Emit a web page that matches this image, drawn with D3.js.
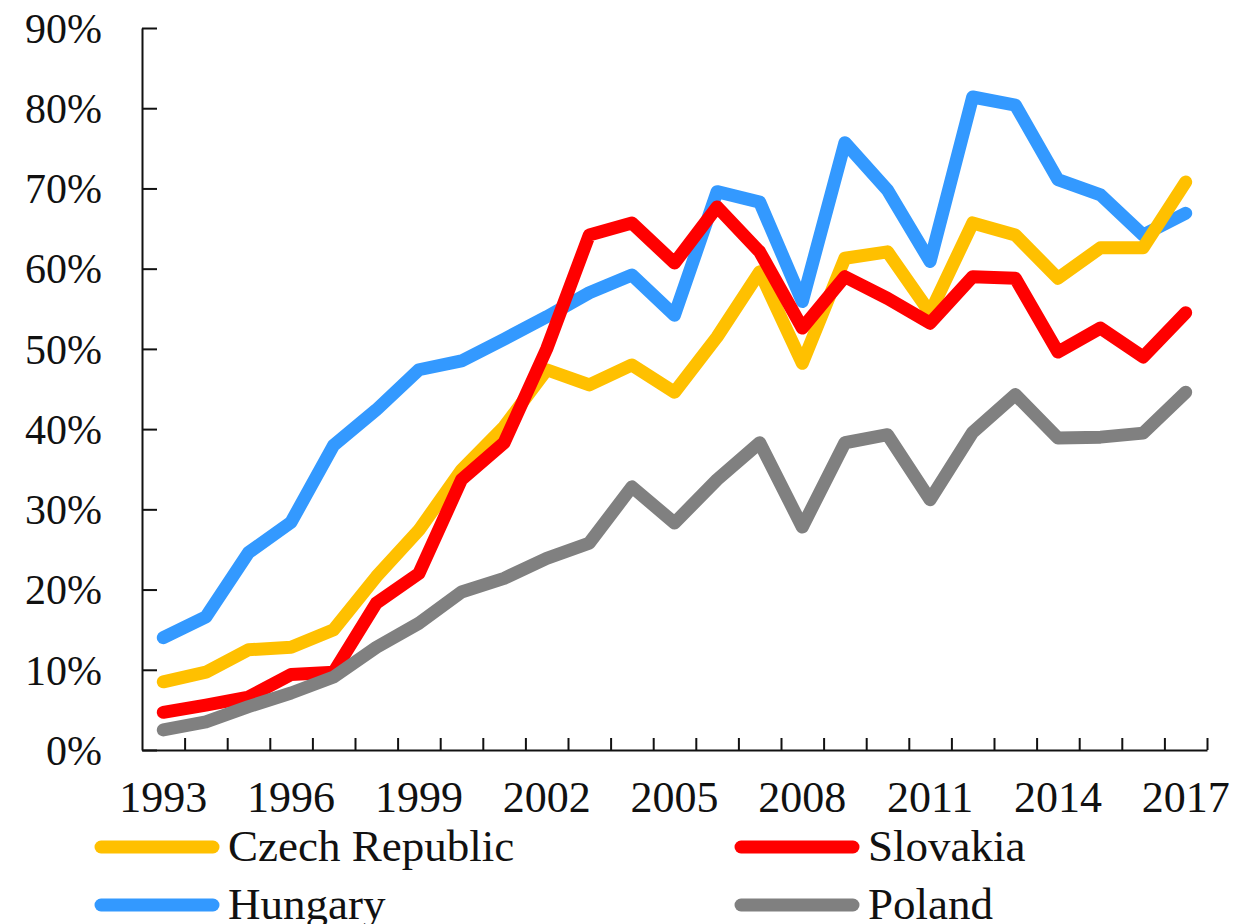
<!DOCTYPE html>
<html>
<head>
<meta charset="utf-8">
<script src="https://cdn.jsdelivr.net/npm/d3@7"></script>
<style>
  body { margin: 0; background: #fff; }
  text { font-family: "Liberation Serif", "Times New Roman", serif; fill: #111; }
</style>
</head>
<body>
<svg id="chart" width="1235" height="924"></svg>
<script>
// data (share, %)
var years = d3.range(1993, 2018);
var yearLabels = [1993, 1996, 1999, 2002, 2005, 2008, 2011, 2014, 2017];
var yTicks = [0, 10, 20, 30, 40, 50, 60, 70, 80, 90];

var czech = [8.5, 9.7, 12.5, 12.8, 15.0, 21.6, 27.4, 34.9, 40.3, 47.4, 45.5, 48.0, 44.6,
             51.5, 59.6, 48.2, 61.3, 62.1, 54.5, 65.7, 64.2, 58.8, 62.6, 62.6, 70.8];
var slovakia = [4.7, 5.6, 6.6, 9.4, 9.7, 18.3, 22.0, 33.7, 38.3, 50.0, 64.2, 65.7, 60.7,
                67.7, 62.1, 52.6, 59.0, 56.3, 53.2, 59.0, 58.8, 49.6, 52.6, 49.0, 54.5];
var hungary = [14.0, 16.6, 24.6, 28.4, 38.0, 42.4, 47.4, 48.5, 51.2, 54.0, 57.0, 59.2, 54.2,
               69.6, 68.3, 55.9, 75.7, 69.8, 60.9, 81.4, 80.4, 71.1, 69.2, 64.2, 66.9];
var poland = [2.5, 3.5, 5.4, 7.1, 9.1, 12.8, 15.8, 19.7, 21.4, 23.9, 25.8, 32.8, 28.3,
              33.7, 38.3, 27.8, 38.3, 39.3, 31.2, 39.6, 44.3, 38.9, 39.0, 39.5, 44.6];

var series = [
  {name: 'Czech Republic', values: czech, color: '#FFC000'},
  {name: 'Slovakia', values: slovakia, color: '#FF0000'},
  {name: 'Hungary', values: hungary, color: '#3399FF'},
  {name: 'Poland', values: poland, color: '#808080'}
];
var drawOrder = [series[2], series[0], series[1], series[3]];

var mLeft = 142, mRight = 1207, mTop = 28, mBottom = 750;
var svg = d3.select('#chart');

var x = d3.scalePoint().domain(years).range([mLeft, mRight]).padding(0.5);
var xb = d3.scaleLinear().domain([0, years.length]).range([mLeft, mRight]);
var y = d3.scaleLinear().domain([0, 90]).range([mBottom, mTop]);

// x axis: ticks sit between the years
svg.append('g')
  .attr('transform', `translate(0,${mBottom})`)
  .call(d3.axisBottom(xb)
    .tickValues(d3.range(1, years.length + 1))
    .tickSizeInner(-12)
    .tickSizeOuter(0)
    .tickFormat(''))
  .call(g => g.selectAll('line, path').attr('stroke', '#111').attr('stroke-width', 2));

svg.append('g')
  .selectAll('text').data(yearLabels).enter()
  .append('text')
  .attr('x', d => x(d))
  .attr('y', 812)
  .attr('text-anchor', 'middle')
  .attr('font-size', '44px')
  .text(d => d);

// y axis
svg.append('g')
  .attr('transform', `translate(${mLeft},0)`)
  .call(d3.axisLeft(y)
    .tickValues(yTicks)
    .tickSizeInner(-15)
    .tickSizeOuter(0)
    .tickPadding(40)
    .tickFormat(d => d + '%'))
  .call(g => g.selectAll('line, path').attr('stroke', '#111').attr('stroke-width', 2))
  .call(g => g.selectAll('text').attr('font-size', '42px').attr('dy', '0.34em')
    .attr('font-family', '"Liberation Serif", serif').attr('fill', '#111'));

var line = d3.line()
  .x((d, i) => x(years[i]))
  .y(d => y(d));

svg.append('g')
  .selectAll('path').data(drawOrder).enter()
  .append('path')
  .attr('d', d => line(d.values))
  .attr('fill', 'none')
  .attr('stroke', d => d.color)
  .attr('stroke-width', 13)
  .attr('stroke-linejoin', 'round')
  .attr('stroke-linecap', 'round');

// legend, two columns
var legendPos = [
  {x: 95, y: 847}, {x: 735, y: 847},
  {x: 95, y: 905}, {x: 735, y: 905}
];
var lg = svg.append('g').selectAll('g').data(series).enter()
  .append('g')
  .attr('transform', (d, i) => `translate(${legendPos[i].x},${legendPos[i].y})`);
lg.append('line')
  .attr('x1', 6).attr('x2', 118)
  .attr('stroke', d => d.color)
  .attr('stroke-width', 13)
  .attr('stroke-linecap', 'round');
lg.append('text')
  .attr('x', 133)
  .attr('y', 14)
  .attr('font-size', '45px')
  .text(d => d.name);
</script>
</body>
</html>
